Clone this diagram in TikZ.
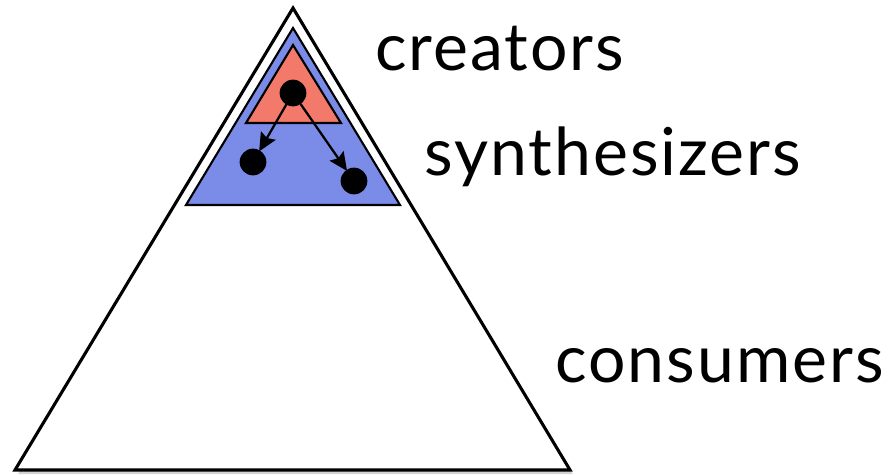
\documentclass[tikz,border=0pt]{standalone}
\usepackage{fontspec}
\setmainfont{Lato}[LetterSpace=3]
\usepackage{tikz}
\usetikzlibrary{arrows.meta,shadows}
\definecolor{creatorred}{HTML}{F37A6A}
\definecolor{synthblue}{HTML}{7A8BE8}
\tikzset{
  every picture/.style={line join=miter, line cap=round},
  level/.style={draw=black, line width=1.5pt},
  dot/.style={circle, fill=black, inner sep=0pt, minimum size=19pt},
  flow/.style={-{Stealth[length=13pt,width=12pt,inset=2pt]}, line width=1.6pt, shorten >=-1pt},
  label/.style={anchor=base west, inner sep=0pt, font=\fontsize{47}{52}\selectfont},
}

\begin{document}
\begin{tikzpicture}[x=0.025cm,y=-0.025cm]
\useasboundingbox (0,0) rectangle (892,475);
% pyramid
\draw[level,line width=2.2pt,fill=white,drop shadow={shadow xshift=2pt,shadow yshift=-3pt,opacity=0.35}]
  (293.000,8.000)--(570.000,470.000)--(15.000,470.000)--cycle;
\draw[level,fill=synthblue](293.000,28.000)--(400.000,205.000)--(186.000,205.000)--cycle;
\draw[level,fill=creatorred](293.000,45.000)--(341.000,123.000)--(246.000,123.000)--cycle;
% people
\node[dot] (top) at (293.000,93.000) {};
\node[dot] (left) at (253.000,162.000) {};
\node[dot] (right) at (354.000,181.000) {};
\draw[flow](top)--(left);
\draw[flow](top)--(right);
% labels
\node[label] (creators) at (375.000,70.000) {creators};
\node[label] (synth) at (424.000,175.000) {synthesizers};
\node[label] (consumers) at (555.000,382.000) {consumers};
\end{tikzpicture}
\end{document}
